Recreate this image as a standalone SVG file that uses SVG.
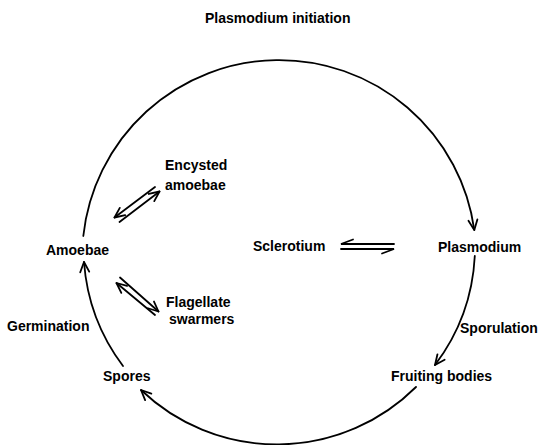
<svg xmlns="http://www.w3.org/2000/svg" width="541" height="445" viewBox="0 0 541 445">
<style>
text{font-family:"Liberation Sans",Arial,sans-serif;font-size:14px;font-weight:bold;fill:#000}
.ln{fill:none;stroke:#000;stroke-width:1.8;stroke-linecap:round}
</style>
<defs>
<marker id="ah" markerUnits="userSpaceOnUse" markerWidth="14" markerHeight="14" viewBox="0 0 14 14" refX="12" refY="7" orient="auto">
<path d="M2,2.5 L12,7 L2,11.5" fill="none" stroke="#000" stroke-width="1.8" stroke-linecap="round" stroke-linejoin="round"/>
</marker>
</defs>
<rect width="541" height="445" fill="#fff"/>
<g id="connectors">
<path class="ln" d="M83.3,236 A197,197 0 0 1 474.3,230" marker-end="url(#ah)"/>
<path class="ln" d="M474.8,256 A197,197 0 0 1 435,365" marker-end="url(#ah)"/>
<path class="ln" d="M416,387 A197,197 0 0 1 141,390" marker-end="url(#ah)"/>
<path class="ln" d="M123,366 A197,197 0 0 1 84,262" marker-end="url(#ah)"/>
<path class="ln" d="M155,187 L114.5,217.5" marker-end="url(#ah)"/>
<path class="ln" d="M119.5,222 L159.5,191.5" marker-end="url(#ah)"/>
<path class="ln" d="M155,315 L116.5,283" marker-end="url(#ah)"/>
<path class="ln" d="M120,277.5 L158.5,311.5" marker-end="url(#ah)"/>
<path class="ln" d="M394,244 L341,244 L353,239.5"/>
<path class="ln" d="M341,249 L394,249 L382,253.5"/>
</g>
<g id="title"><text x="205" y="22.5">Plasmodium initiation</text></g>
<g id="encysted"><text x="165" y="170">Encysted</text><text x="165" y="190">amoebae</text></g>
<g id="amoebae"><text x="46" y="255">Amoebae</text></g>
<g id="sclerotium"><text x="253" y="251">Sclerotium</text></g>
<g id="plasmodium"><text x="438" y="251.5">Plasmodium</text></g>
<g id="flagellate"><text x="166" y="307">Flagellate</text><text x="169" y="324">swarmers</text></g>
<g id="germination"><text x="7" y="331">Germination</text></g>
<g id="sporulation"><text x="460" y="333">Sporulation</text></g>
<g id="fruiting"><text x="391" y="381">Fruiting bodies</text></g>
<g id="spores"><text x="103" y="381">Spores</text></g>
</svg>
